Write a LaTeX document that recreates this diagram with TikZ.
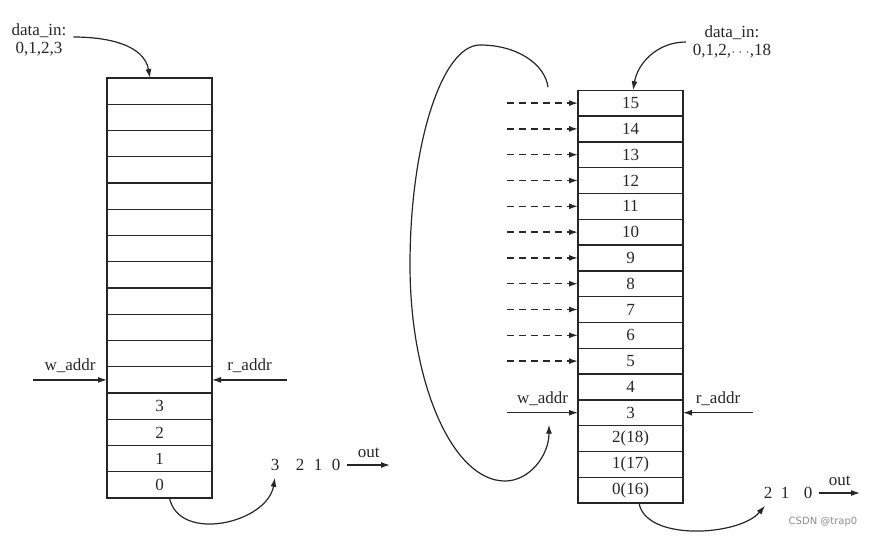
\documentclass[tikz,border=0pt]{standalone}
\usepackage{fontspec}
\setmainfont{Liberation Serif}
\newfontfamily\wmfont{DejaVu Sans}
\usetikzlibrary{arrows.meta,positioning,calc}

\colorlet{ink}{black!85}

\begin{document}
\begin{tikzpicture}[x=0.5pt, y=0.5pt, >={Latex[length=4.5pt,width=3pt]},
  every node/.style={font=\fontsize{8.5}{9}\selectfont, text=ink},
  cellL/.style={draw=ink, line width=0.7pt, minimum width=52.5pt, minimum height=13.125pt, inner sep=0pt, outer sep=0pt},
  cellR/.style={cellL, minimum height=12.9pt},
  wire/.style={->, draw=ink, line width=0.6pt},
  dashwire/.style={wire, line width=0.75pt, dash pattern=on 3.5pt off 2.5pt}]
\useasboundingbox (0,0) rectangle (872,-537);

% left memory: 16 cells, 0..3 filled
\node[cellL] (L0) at (159.5,-484.9) {0};
\foreach \i [remember=\i as \j (initially 0)] in {1,...,15}
  \node[cellL, above=0pt of L\j] (L\i) {\ifnum\i<4 \i\fi};

% right memory: 16 cells, wrapped values
\node[cellR] (R0) at (630.5,-490.1) {0(16)};
\foreach \i [remember=\i as \j (initially 0)] in {1,...,15}
  \node[cellR, above=0pt of R\j] (R\i) {\ifnum\i<3 \i(\the\numexpr\i+16\relax)\else\i\fi};

% data_in
\node[align=center] (dinL) at (39,-40) {data\_in:\\0,1,2,3};
\node[align=center] (dinR) at (732,-42) {data\_in:\\0,1,2,{\fontsize{6}{6}\selectfont$\cdots$},18};
\draw[wire] ([yshift=1.5pt]dinL.east) to[out=0,in=100] ([xshift=-4.75pt]L15.north);
\draw[wire] (dinR.west) to[out=180,in=80] ([xshift=1.25pt]R15.north);

% addresses
\coordinate (wl) at ([xshift=-37pt]L4.west);
\coordinate (rl) at ([xshift=37.5pt]L4.east);
\draw[wire] (wl) -- node[above]{w\_addr} (L4);
\draw[wire] (rl) -- node[above]{r\_addr} (L4);
\coordinate (wr) at ([xshift=-35.5pt]R3.west);
\coordinate (rr) at ([xshift=35pt]R3.east);
\draw[wire] (wr) -- node[above]{w\_addr} (R3);
\draw[wire] (rr) -- node[above]{r\_addr} (R3);

% pending writes
\foreach \i in {5,...,15} {
  \coordinate (d\i) at ([xshift=-35.5pt]R\i.west);
  \draw[dashwire] (d\i) -- (R\i);
}

% wrap-around of w_addr
\coordinate (ls) at ([xshift=-15pt,yshift=1.5pt]R15.north west);
\coordinate (le) at ([xshift=-14.5pt,yshift=-6pt]R3.west);
\draw[wire] (ls) .. controls (545,-64) and (517,-45) .. (480,-45)
  .. controls (442,-45) and (410,-144) .. (410,-265)
  .. controls (410,-384) and (453,-481) .. (505,-481)
  .. controls (529,-481) and (549,-456) .. (le);

% outputs
\node (oL3) at (275,-465) {3};
\node (oL2) at (300,-465) {2};
\node (oL1) at (318,-465) {1};
\node (oL0) at (336,-465) {0};
\coordinate (outl) at (390,-465);
\draw[wire] (oL0) -- node[above]{out} (outl);
\draw[wire] ([xshift=5pt]L0.south) to[out=-78,in=-100,looseness=1.1] (oL3.south);

\node (oR2) at (768,-493) {2};
\node (oR1) at (785,-493) {1};
\node (oR0) at (808,-493) {0};
\coordinate (outr) at (860,-493);
\draw[wire] (oR0) -- node[above]{out} (outr);
\draw[wire] ([xshift=4.25pt]R0.south) to[out=-80,in=-130,looseness=0.8] ([xshift=-1.5pt]oR2.south);

\node[font=\wmfont\fontsize{5}{6}\selectfont, text=black!45] (wm) at (823,-522) {CSDN @trap0};
\end{tikzpicture}
\end{document}
